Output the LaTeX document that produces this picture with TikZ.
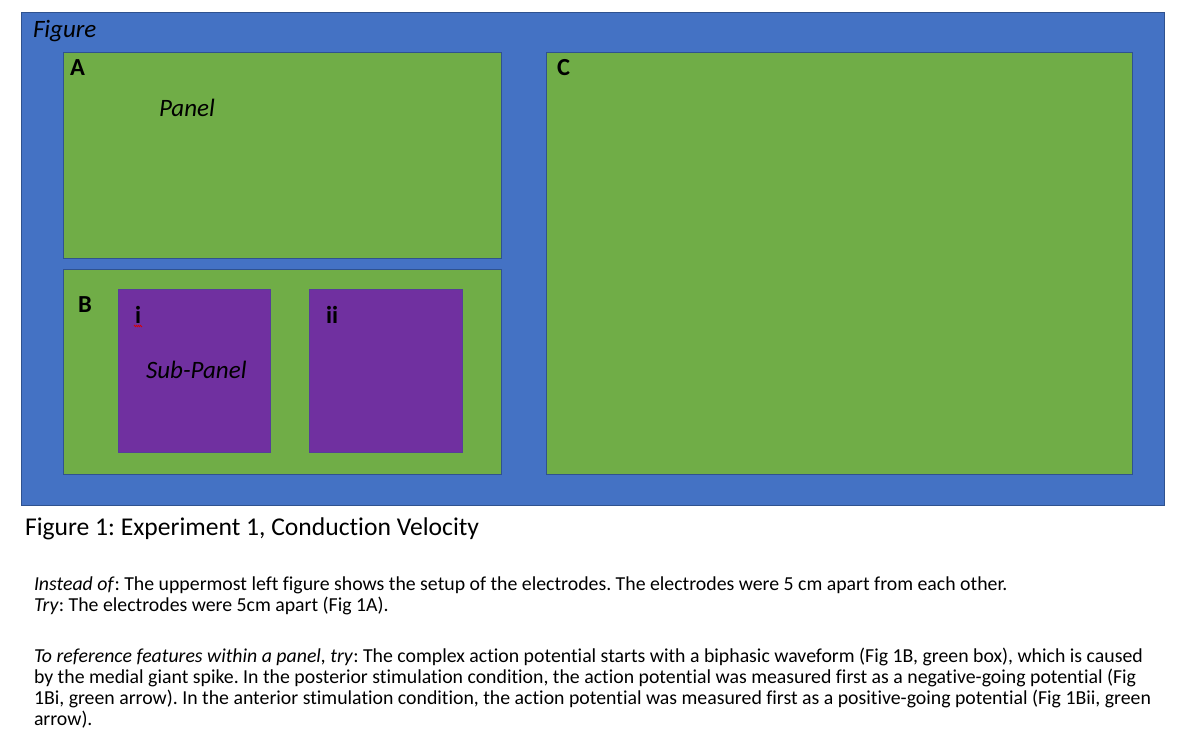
\documentclass[tikz,border=0pt]{standalone}
\usepackage{fontspec}
\setmainfont{Carlito}[Ligatures={NoCommon,NoContextual,NoRequired},Contextuals={NoAlternate}]
\usetikzlibrary{decorations.pathmorphing}
\definecolor{figblue}{HTML}{4472C4}
\definecolor{edgeblue}{HTML}{2F528F}
\definecolor{panelgreen}{HTML}{70AD47}
\definecolor{subpurple}{HTML}{7030A0}
\tikzset{
  figbox/.style={draw=edgeblue, line width=1pt, fill=figblue, anchor=north west, inner sep=0pt, outer sep=0pt},
  panelbox/.style={draw=edgeblue, line width=0.8pt, fill=panelgreen, anchor=north west, inner sep=0pt, outer sep=0pt},
  subbox/.style={draw=edgeblue!40!subpurple, line width=0.6pt, fill=subpurple, anchor=north west, inner sep=0pt, outer sep=0pt},
  lbl/.style={anchor=base west, inner sep=0pt, outer sep=0pt, font=\fontsize{25}{30}\selectfont\itshape},
  letter/.style={anchor=base west, inner sep=0pt, outer sep=0pt, font=\fontsize{24.5}{30}\selectfont\bfseries},
  caption/.style={anchor=base west, inner sep=0pt, outer sep=0pt, font=\fontsize{25.6}{30}\selectfont},
  body/.style={anchor=base west, inner sep=0pt, outer sep=0pt, font=\fontsize{19.8}{21}\selectfont},
}
\begin{document}
\frenchspacing
\begin{tikzpicture}[x=1pt,y=-1pt]
\useasboundingbox (0,0) rectangle (1177,745);
% boxes
\node[figbox, minimum width=1143pt, minimum height=493pt] (fig) at (21,12) {};
\node[panelbox, minimum width=438pt, minimum height=206pt] (pA) at (63,52) {};
\node[panelbox, minimum width=438pt, minimum height=205pt] (pB) at (63,269) {};
\node[panelbox, minimum width=586pt, minimum height=422pt] (pC) at (546,52) {};
\node[subbox, minimum width=152pt, minimum height=163pt] (sBi) at (118,289) {};
\node[subbox, minimum width=153pt, minimum height=163pt] (sBii) at (309,289) {};
% labels
\node[lbl] (tfig) at (33,37) {Figure};
\node[letter] (tA) at (70,75) {A};
\node[lbl] (tpanel) at (159,116) {Panel};
\node[letter] (tB) at (78,312) {B};
\node[letter] (ti) at (135,323) {i};
\coordinate (sq1) at (134,326);
\coordinate (sq2) at (142,326);
\draw[red!85!black, line width=0.6pt, decorate, decoration={zigzag, segment length=2pt, amplitude=0.8pt}] (sq1) -- (sq2);
\node[letter] (tii) at (326,323) {ii};
\node[lbl] (tsub) at (146,378) {Sub-Panel};
\node[letter] (tC) at (557,75) {C};
% caption
\node[caption] (cap) at (25,535) {Figure 1: Experiment 1, Conduction Velocity};
% body
\node[body] (l1) at (34,590) {\textit{Instead of}: The uppermost left figure shows the setup of the electrodes. The electrodes were 5 cm apart from each other.};
\node[body] (l2) at (34,611.5) {\textit{Try}: The electrodes were 5cm apart (Fig 1A).};
\node[body] (l3) at (34,662.5) {\textit{To reference features within a panel, try}: The complex action potential starts with a biphasic waveform (Fig 1B, green box), which is caused};
\node[body] (l4) at (34,683.5) {by the medial giant spike. In the posterior stimulation condition, the action potential was measured first as a negative-going potential (Fig};
\node[body] (l5) at (34,704.5) {1Bi, green arrow). In the anterior stimulation condition, the action potential was measured first as a positive-going potential (Fig 1Bii, green};
\node[body] (l6) at (34,725.5) {arrow).};
\end{tikzpicture}
\end{document}
